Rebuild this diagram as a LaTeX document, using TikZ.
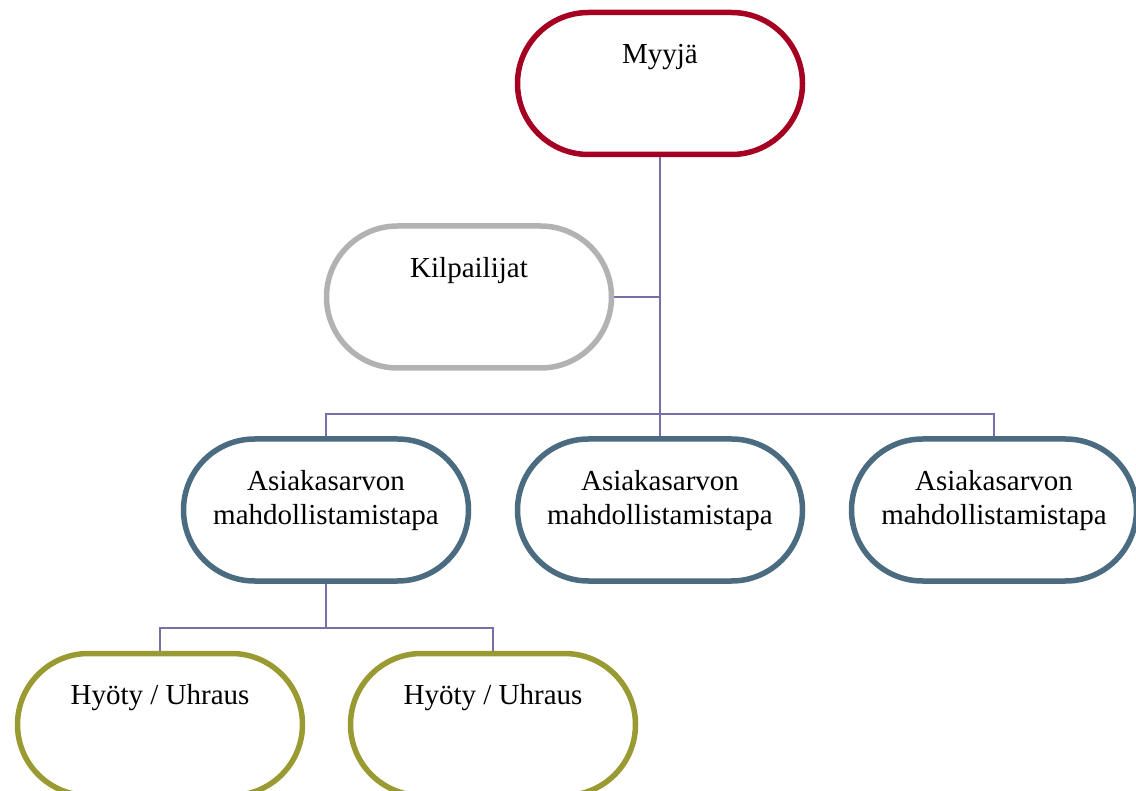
\documentclass[tikz,border=0pt]{standalone}
\usepackage{fontspec}
\setmainfont{Liberation Serif}
\usetikzlibrary{calc}
\definecolor{sellerred}{RGB}{165,0,33}
\definecolor{rivalgray}{RGB}{178,178,178}
\definecolor{valueblue}{RGB}{74,107,128}
\definecolor{gainolive}{RGB}{154,154,51}
\definecolor{linkviolet}{RGB}{118,112,170}
\begin{document}
\begin{tikzpicture}[x=1pt,y=-1pt,
  pill/.style={draw=#1, line width=5.5pt, fill=white, rounded corners=71pt,
    minimum width=285pt, minimum height=142pt, inner sep=0pt},
  caption/.style={anchor=base, align=center, inner sep=0pt,
    font=\fontsize{29}{34}\selectfont},
  link/.style={draw=linkviolet, line width=2pt}]
\useasboundingbox (0,0) rectangle (1136,791);

% boxes
\node[pill=sellerred]  (myyja) at (660,83.5) {};
\node[pill=rivalgray]  (kilp)  at (469,297) {};
\node[pill=valueblue]  (as1)   at (326,510) {};
\node[pill=valueblue]  (as2)   at (660,510) {};
\node[pill=valueblue]  (as3)   at (994,510) {};
\node[pill=gainolive]  (hy1)   at (160,724.5) {};
\node[pill=gainolive]  (hy2)   at (493,724.5) {};

% texts (multi-line captions sit on the baseline of their last line)
\node[caption] (tmyyja) at (660,64) {Myyjä};
\node[caption] (tkilp)  at (469,278) {Kilpailijat};
\node[caption] (tas1)   at (326,525) {Asiakasarvon\\mahdollistamistapa};
\node[caption] (tas2)   at (660,525) {Asiakasarvon\\mahdollistamistapa};
\node[caption] (tas3)   at (994,525) {Asiakasarvon\\mahdollistamistapa};
\node[caption] (thy1)   at (160,704) {Hyöty / Uhraus};
\node[caption] (thy2)   at (493,704) {Hyöty / Uhraus};

% connectors
\coordinate (bus) at (660,414);
\coordinate (subbus) at (326,628);
\draw[link] (myyja.south) -- (as2.north);
\draw[link] (kilp.east) -- (kilp.east -| myyja.south);
\draw[link] (as1.north) |- (bus) -| (as3.north);
\draw[link] (as1.south) -- (subbus);
\draw[link] (hy1.north) |- (subbus) -| (hy2.north);
\end{tikzpicture}
\end{document}
